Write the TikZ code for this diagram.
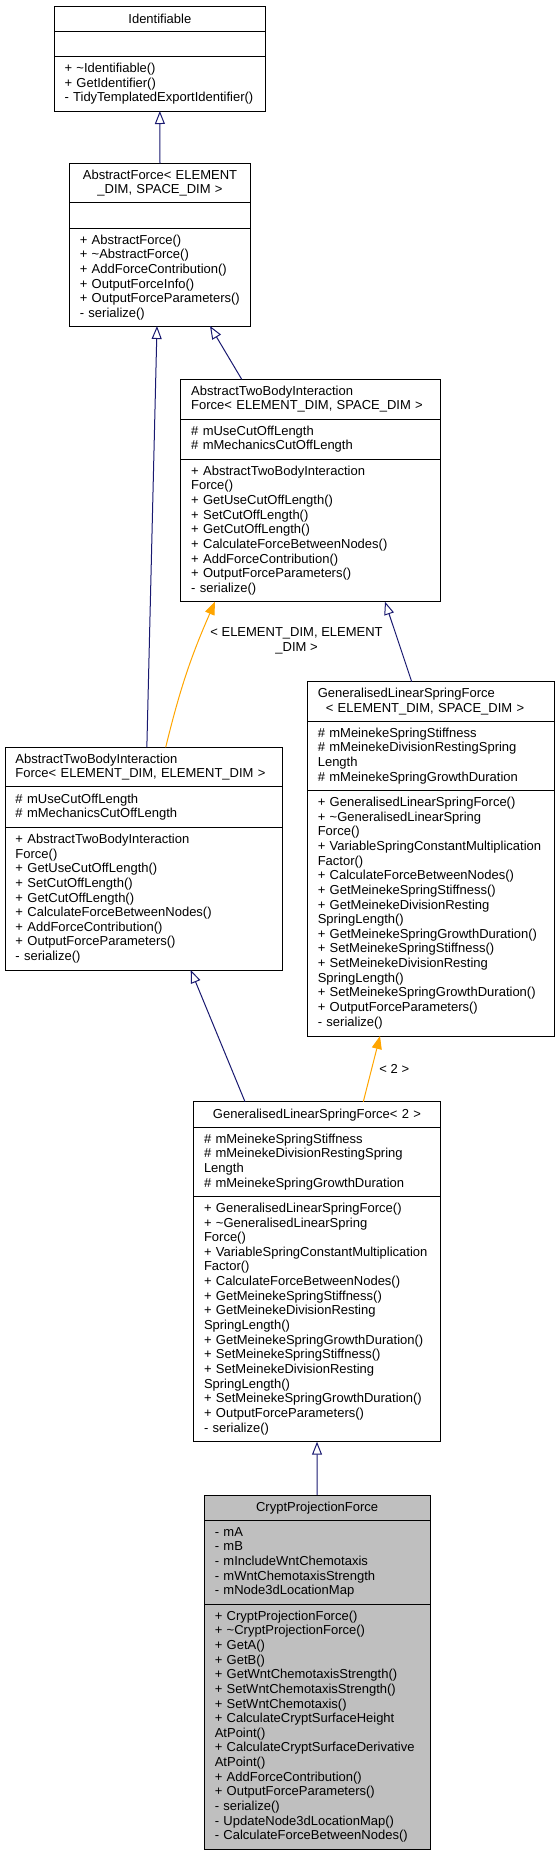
\documentclass[tikz,border=0pt]{standalone}
\usepackage{fontspec}
\setmainfont{Liberation Sans}
\usepackage{xcolor}
\usepackage{tikz}
\usetikzlibrary{arrows.meta,positioning}

\definecolor{edgeblue}{HTML}{191970}
\definecolor{tplorange}{HTML}{FFA500}
\definecolor{focusgray}{HTML}{BFBFBF}
\hyphenpenalty=10000
\exhyphenpenalty=10000

\begin{document}
\begin{tikzpicture}[
    x=1pt, y=1pt,
    font=\fontsize{13pt}{14.64pt}\selectfont,
    cls/.style={rectangle, draw=black, line width=1pt, fill=white, outer sep=0pt, inner xsep=10.5pt, inner ysep=0pt},
    ctitle/.style={cls, anchor=north, align=center, minimum height=25.7pt},
    cpart/.style={cls, align=left},
    inh/.style={-{Triangle[open, length=13pt, width=10pt]}, draw=edgeblue, line width=1pt},
    tpl/.style={-{Triangle[length=13pt, width=10pt, fill=tplorange]}, draw=tplorange, line width=1pt}
]
\useasboundingbox (0,0) rectangle (559,-1856);

% Identifiable
\node[ctitle, text width=190.7pt] (idt) at (159.85,-6) {Identifiable};
\node[cpart, text width=190.7pt, minimum height=25pt, below=0pt of idt] (ida) {};
\node[cpart, text width=190.7pt, minimum height=54.3pt, below=0pt of ida] (idm) {+ \textasciitilde Identifiable()\\+ GetIdentifier()\\- TidyTemplatedExportIdentifier()};

% AbstractForce
\node[ctitle, text width=160.4pt, minimum height=39.4pt] (aft) at (160,-163.3) {AbstractForce< ELEMENT\\\_DIM, SPACE\_DIM >};
\node[cpart, text width=160.4pt, minimum height=26pt, below=0pt of aft] (afa) {};
\node[cpart, text width=160.4pt, minimum height=97.3pt, below=0pt of afa] (afm) {+ AbstractForce()\\+ \textasciitilde AbstractForce()\\+ AddForceContribution()\\+ OutputForceInfo()\\+ OutputForceParameters()\\- serialize()};

% AbstractTwoBodyInteractionForce< ELEMENT_DIM, SPACE_DIM >
\node[ctitle, align=left, text width=239pt, minimum height=39.7pt] (tbt) at (310.7,-379.3) {AbstractTwoBodyInteraction\\Force< ELEMENT\_DIM, SPACE\_DIM >};
\node[cpart, text width=239pt, minimum height=40.3pt, below=0pt of tbt] (tba) {\# mUseCutOffLength\\\# mMechanicsCutOffLength};
\node[cpart, text width=239pt, minimum height=142.4pt, below=0pt of tba] (tbm) {+ AbstractTwoBodyInteraction\\Force()\\+ GetUseCutOffLength()\\+ SetCutOffLength()\\+ GetCutOffLength()\\+ CalculateForceBetweenNodes()\\+ AddForceContribution()\\+ OutputForceParameters()\\- serialize()};

% AbstractTwoBodyInteractionForce< ELEMENT_DIM, ELEMENT_DIM >
\node[ctitle, align=left, text width=256.7pt, minimum height=39.4pt] (tet) at (143.85,-747.3) {AbstractTwoBodyInteraction\\Force< ELEMENT\_DIM, ELEMENT\_DIM >};
\node[cpart, text width=256.7pt, minimum height=40.6pt, below=0pt of tet] (tea) {\# mUseCutOffLength\\\# mMechanicsCutOffLength};
\node[cpart, text width=256.7pt, minimum height=142.7pt, below=0pt of tea] (tem) {+ AbstractTwoBodyInteraction\\Force()\\+ GetUseCutOffLength()\\+ SetCutOffLength()\\+ GetCutOffLength()\\+ CalculateForceBetweenNodes()\\+ AddForceContribution()\\+ OutputForceParameters()\\- serialize()};

% GeneralisedLinearSpringForce< ELEMENT_DIM, SPACE_DIM >
\node[ctitle, align=left, text width=226pt, minimum height=40pt] (gst) at (430.8,-681.7) {GeneralisedLinearSpringForce\\\hspace*{8pt}< ELEMENT\_DIM, SPACE\_DIM >};
\node[cpart, text width=226pt, minimum height=68.3pt, below=0pt of gst] (gsa) {\# mMeinekeSpringStiffness\\\# mMeinekeDivisionRestingSpring\\Length\\\# mMeinekeSpringGrowthDuration};
\node[cpart, text width=226pt, minimum height=246pt, below=0pt of gsa] (gsm) {+ GeneralisedLinearSpringForce()\\+ \textasciitilde GeneralisedLinearSpring\\Force()\\+ VariableSpringConstantMultiplication\\Factor()\\+ CalculateForceBetweenNodes()\\+ GetMeinekeSpringStiffness()\\+ GetMeinekeDivisionResting\\SpringLength()\\+ GetMeinekeSpringGrowthDuration()\\+ SetMeinekeSpringStiffness()\\+ SetMeinekeDivisionResting\\SpringLength()\\+ SetMeinekeSpringGrowthDuration()\\+ OutputForceParameters()\\- serialize()};

% GeneralisedLinearSpringForce< 2 >
\node[ctitle, text width=226pt, minimum height=26pt] (g2t) at (317,-1101.7) {GeneralisedLinearSpringForce< 2 >};
\node[cpart, text width=226pt, minimum height=68.3pt, below=0pt of g2t] (g2a) {\# mMeinekeSpringStiffness\\\# mMeinekeDivisionRestingSpring\\Length\\\# mMeinekeSpringGrowthDuration};
\node[cpart, text width=226pt, minimum height=245.7pt, below=0pt of g2a] (g2m) {+ GeneralisedLinearSpringForce()\\+ \textasciitilde GeneralisedLinearSpring\\Force()\\+ VariableSpringConstantMultiplication\\Factor()\\+ CalculateForceBetweenNodes()\\+ GetMeinekeSpringStiffness()\\+ GetMeinekeDivisionResting\\SpringLength()\\+ GetMeinekeSpringGrowthDuration()\\+ SetMeinekeSpringStiffness()\\+ SetMeinekeDivisionResting\\SpringLength()\\+ SetMeinekeSpringGrowthDuration()\\+ OutputForceParameters()\\- serialize()};

% CryptProjectionForce
\node[ctitle, fill=focusgray, text width=204.7pt] (cpt) at (317.15,-1495) {CryptProjectionForce};
\node[cpart, fill=focusgray, text width=204.7pt, minimum height=83.3pt, below=0pt of cpt] (cpa) {- mA\\- mB\\- mIncludeWntChemotaxis\\- mWntChemotaxisStrength\\- mNode3dLocationMap};
\node[cpart, fill=focusgray, text width=204.7pt, minimum height=245.3pt, below=0pt of cpa] (cpm) {+ CryptProjectionForce()\\+ \textasciitilde CryptProjectionForce()\\+ GetA()\\+ GetB()\\+ GetWntChemotaxisStrength()\\+ SetWntChemotaxisStrength()\\+ SetWntChemotaxis()\\+ CalculateCryptSurfaceHeight\\AtPoint()\\+ CalculateCryptSurfaceDerivative\\AtPoint()\\+ AddForceContribution()\\+ OutputForceParameters()\\- serialize()\\- UpdateNode3dLocationMap()\\- CalculateForceBetweenNodes()};

% inheritance
\draw[inh] (aft.north) -- (idm.south);
\draw[inh] ([xshift=-69pt]tbt.north) -- ([xshift=50pt]afm.south);
\draw[inh] ([xshift=3pt]tet.north) -- ([xshift=-3pt]afm.south);
\draw[inh] ([xshift=-19.1pt]gst.north) -- ([xshift=74.3pt]tbm.south);
\draw[inh] ([xshift=-72pt]g2t.north) -- ([xshift=46.85pt]tem.south);
\draw[inh] (cpt.north) -- (g2m.south);

% template instances
\draw[tpl] ([xshift=21.85pt]tet.north) to[bend left=5] node[right, pos=0.74, xshift=8pt, align=center, text=black] {< ELEMENT\_DIM, ELEMENT\\\_DIM >} ([xshift=-95.7pt]tbm.south);
\draw[tpl] ([xshift=46.3pt]g2t.north) -- node[right, pos=0.5, xshift=4pt, text=black] {< 2 >} ([xshift=-50.8pt]gsm.south);
\end{tikzpicture}
\end{document}
